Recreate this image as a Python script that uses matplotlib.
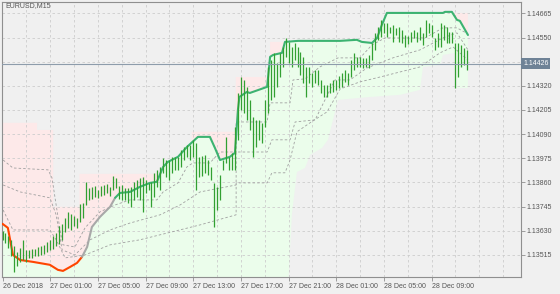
import matplotlib
matplotlib.use("Agg")
import matplotlib.pyplot as plt
import matplotlib.transforms as mtransforms

plt.rcParams['font.family'] = ['Liberation Sans', 'DejaVu Sans']

symbol = "EURUSD,M15"
last_price = 1.14426

highs = [
    1.13629, 1.13620, 1.13606, 1.13587, 1.13558, 1.13530, 1.13549, 1.13587, 1.13539, 1.13539,
    1.13544, 1.13544, 1.13553, 1.13558, 1.13563, 1.13577, 1.13587, 1.13606, 1.13620, 1.13653,
    1.13663, 1.13691, 1.13720, 1.13710, 1.13701, 1.13691, 1.13758, 1.13763, 1.13863, 1.13834,
    1.13839, 1.13844, 1.13825, 1.13844, 1.13848, 1.13853, 1.13839, 1.13891, 1.13882, 1.13844,
    1.13848, 1.13834, 1.13834, 1.13839, 1.13863, 1.13872, 1.13882, 1.13886, 1.13872, 1.13858,
    1.13863, 1.13906, 1.13920, 1.13934, 1.13977, 1.13967, 1.13967, 1.13982, 1.13982, 1.13982,
    1.14015, 1.14029, 1.14039, 1.14039, 1.14063, 1.14048, 1.13982, 1.13986,
    1.13991, 1.13967, 1.13934,
    1.13858, 1.13839, 1.13896, 1.13967, 1.14077, 1.13982, 1.14001, 1.14124, 1.14286, 1.14362,
    1.14348, 1.14315, 1.14253, 1.14172, 1.14158, 1.14158, 1.14144, 1.14253, 1.14410, 1.14443,
    1.14477, 1.14429, 1.14477, 1.14505, 1.14548, 1.14529, 1.14505, 1.14524, 1.14505, 1.14481,
    1.14458, 1.14410, 1.14410, 1.14382, 1.14396, 1.14396, 1.14348, 1.14324, 1.14324, 1.14334,
    1.14348, 1.14348, 1.14367, 1.14382, 1.14396, 1.14382, 1.14443, 1.14477, 1.14458, 1.14458,
    1.14453, 1.14453, 1.14467, 1.14524, 1.14572, 1.14600, 1.14634, 1.14620, 1.14620, 1.14600,
    1.14610, 1.14596, 1.14600, 1.14586, 1.14562, 1.14558, 1.14577, 1.14586, 1.14577, 1.14600,
    1.14572, 1.14634, 1.14620, 1.14610, 1.14548, 1.14572, 1.14620, 1.14610, 1.14600, 1.14577,
    1.14577, 1.14524, 1.14524, 1.14515, 1.14501, 1.14491,
]
lows = [
    1.13587, 1.13572, 1.13549, 1.13510, 1.13434, 1.13463, 1.13482, 1.13491, 1.13482, 1.13501,
    1.13501, 1.13510, 1.13510, 1.13515, 1.13520, 1.13530, 1.13539, 1.13544, 1.13558, 1.13568,
    1.13587, 1.13625, 1.13644, 1.13634, 1.13653, 1.13644, 1.13672, 1.13691, 1.13753, 1.13777,
    1.13782, 1.13791, 1.13787, 1.13796, 1.13801, 1.13810, 1.13796, 1.13825, 1.13834, 1.13782,
    1.13777, 1.13777, 1.13763, 1.13744, 1.13777, 1.13791, 1.13777, 1.13720, 1.13810, 1.13825,
    1.13744, 1.13791, 1.13839, 1.13825, 1.13906, 1.13886, 1.13872, 1.13906, 1.13920, 1.13920,
    1.13934, 1.13967, 1.13982, 1.13967, 1.13982, 1.13825, 1.13886, 1.13891,
    1.13906, 1.13896, 1.13872,
    1.13648, 1.13729, 1.13777, 1.13920, 1.13953, 1.13920, 1.13920, 1.13920, 1.14063, 1.14205,
    1.14191, 1.14158, 1.14110, 1.13982, 1.14029, 1.14063, 1.14048, 1.14124, 1.14191, 1.14253,
    1.14267, 1.14315, 1.14362, 1.14410, 1.14458, 1.14429, 1.14410, 1.14443, 1.14410, 1.14372,
    1.14334, 1.14267, 1.14334, 1.14315, 1.14334, 1.14324, 1.14286, 1.14267, 1.14267, 1.14286,
    1.14291, 1.14301, 1.14310, 1.14315, 1.14339, 1.14324, 1.14362, 1.14396, 1.14410, 1.14410,
    1.14405, 1.14410, 1.14405, 1.14443, 1.14491, 1.14539, 1.14553, 1.14572, 1.14553, 1.14572,
    1.14529, 1.14562, 1.14529, 1.14524, 1.14505, 1.14520, 1.14529, 1.14548, 1.14529, 1.14539,
    1.14515, 1.14553, 1.14572, 1.14553, 1.14491, 1.14505, 1.14505, 1.14539, 1.14524, 1.14524,
    1.14524, 1.14310, 1.14362, 1.14410, 1.14420, 1.14396,
]

# trailing line: down (orange), transition (grey), up (green)
trail_dn_k = [0, 1.8, 3.5, 5.9, 10.2, 15.9, 18.6, 20.3, 22.7, 25, 26.7]
trail_dn_p = [1.13663, 1.13644, 1.13515, 1.13491, 1.13482, 1.13468, 1.13444, 1.13439, 1.13458, 1.13477, 1.13506]
trail_tr_k = [26.7, 28.4, 30, 32.7, 36.1, 37.8]
trail_tr_p = [1.13506, 1.13553, 1.13648, 1.13696, 1.13744, 1.13787]
trail_up_k = [37.8, 39.4, 42.8, 46.1, 49.5, 51.8, 53.9, 55.5, 58.9, 61.9, 65.6, 69.6, 71.3, 73, 76.3, 78,
              79, 79.5, 82, 83, 88.8, 89.8, 90.8, 93.8, 94.8, 99.2, 113.3, 118.9, 120.6, 124, 125.7,
              127.3, 129, 147.8, 148.5, 150.8, 152.5, 153.5, 156.2]
trail_up_p = [1.13787, 1.13810, 1.13815, 1.13839, 1.13858, 1.13863, 1.13934, 1.13958, 1.13982, 1.14029,
              1.14077, 1.14077, 1.14024, 1.13967, 1.13982, 1.14001, 1.14205, 1.14267, 1.14291, 1.14286,
              1.14315, 1.14458, 1.14467, 1.14477, 1.14529, 1.14534, 1.14534, 1.14539, 1.14529, 1.14524,
              1.14548, 1.14610, 1.14667, 1.14667, 1.14672, 1.14672, 1.14634, 1.14629, 1.14562]

upper_k = [0, 11.6, 11.6, 17, 17, 25.8, 25.8, 52.9, 53.9, 55.5, 58.9, 61.9, 63.5, 63.5, 78.3, 78.3,
           89.8, 89.8, 94.8, 99.2, 113.3, 118.9, 120.6, 124, 125.7, 127.3, 129, 156.2]
upper_p = [1.14144, 1.14144, 1.14110, 1.14110, 1.13744, 1.13744, 1.13901, 1.13901, 1.13934, 1.13958,
           1.13982, 1.14029, 1.14048, 1.14101, 1.14101, 1.14362, 1.14362, 1.14529, 1.14529, 1.14534,
           1.14534, 1.14539, 1.14529, 1.14524, 1.14548, 1.14610, 1.14667, 1.14667]

lower_k = [0, 95.8, 97.1, 98.8, 101.5, 103.2, 107.2, 109.2, 112.6, 123.3, 133.4, 140.1, 141.1, 146.8,
           147.8, 152, 152.5, 156.2]
lower_p = [1.13349, 1.13349, 1.13706, 1.13910, 1.13929, 1.13991, 1.14024, 1.14063, 1.14253, 1.14267,
           1.14277, 1.14301, 1.14410, 1.14420, 1.14467, 1.14477, 1.14310, 1.14310]

lvl1_k = [0.2, 3.5, 15.3, 16.6, 18, 19.3, 20.3, 24.3, 27.7, 32.7, 37.8, 42.8, 51.8, 53.9, 58.9, 61.9,
          63.9, 69.6, 73, 78.4, 78.4, 88.8, 89.8, 96.5, 97.5, 101.5, 106.5, 112.6, 120, 124, 128.4,
          141.8, 147.8, 152.5, 156.2]
lvl1_p = [1.13967, 1.13929, 1.13920, 1.13882, 1.13753, 1.13634, 1.13563, 1.13553, 1.13644, 1.13720,
          1.13753, 1.13777, 1.13777, 1.13815, 1.13858, 1.13934, 1.13953, 1.13953, 1.14005, 1.14005,
          1.14148, 1.14148, 1.14239, 1.14239, 1.14348, 1.14353, 1.14410, 1.14453, 1.14453, 1.14515,
          1.14548, 1.14548, 1.14596, 1.14596, 1.14567]
lvl2_k = [0.2, 5.9, 15.9, 18, 20, 24.3, 29.4, 36.1, 42.8, 52.9, 59.6, 66.3, 78.4, 78.4, 88.8, 90.4,
          96.5, 98.2, 104.9, 109.9, 111.6, 116.6, 122.3, 131, 140.1, 147.8, 152.5, 156.2]
lvl2_p = [1.13848, 1.13815, 1.13787, 1.13706, 1.13539, 1.13515, 1.13587, 1.13634, 1.13667, 1.13706,
          1.13753, 1.13815, 1.13848, 1.14005, 1.14005, 1.14063, 1.14063, 1.14148, 1.14158, 1.14301,
          1.14348, 1.14348, 1.14405, 1.14453, 1.14491, 1.14548, 1.14572, 1.14491]
lvl3_k = [0.2, 3.5, 15.9, 18, 21, 27.7, 36.1, 46.1, 66.3, 78.4, 78.4, 88.8, 90.4, 94.8, 96.5, 98.8,
          103.2, 108.9, 113.3, 120, 126.7, 133.4, 140.1, 146.8, 151.2, 156.2]
lvl3_p = [1.13729, 1.13634, 1.13634, 1.13587, 1.13501, 1.13515, 1.13563, 1.13587, 1.13658, 1.13706,
          1.13858, 1.13858, 1.13906, 1.13906, 1.13967, 1.14101, 1.14144, 1.14196, 1.14305, 1.14339,
          1.14362, 1.14386, 1.14410, 1.14477, 1.14505, 1.14443]

price_ticks = [1.13515, 1.13630, 1.13745, 1.13860, 1.13975, 1.14090, 1.14205, 1.14320, 1.14435,
               1.14550, 1.14665]
time_tick_bars = [0, 16, 32, 48, 64, 80, 96, 112, 128, 144]
time_labels = ["26 Dec 2018", "27 Dec 01:00", "27 Dec 05:00", "27 Dec 09:00", "27 Dec 13:00",
               "27 Dec 17:00", "27 Dec 21:00", "28 Dec 01:00", "28 Dec 05:00", "28 Dec 09:00"]

BG = '#f0f0f0'
W, H = 560, 294
fig = plt.figure(figsize=(W / 100, H / 100), dpi=100, facecolor=BG)
ax = fig.add_axes([2 / W, 17 / H, 519 / W, 275 / H], facecolor=BG)
ax.set_xlim(-0.17, 174.0)
ax.set_ylim(1.13410, 1.14719)

# fills
trail_k = trail_dn_k + trail_tr_k[1:] + trail_up_k[1:]
trail_p = trail_dn_p + trail_tr_p[1:] + trail_up_p[1:]
ax.fill(upper_k + trail_k[::-1], upper_p + trail_p[::-1], color='#fde9e9', lw=0, zorder=0.5)
ax.fill(trail_k + lower_k[::-1], trail_p + lower_p[::-1], color='#ebfdeb', lw=0, zorder=0.5)

# grid
for p in price_ticks:
    ax.axhline(p, color='#cdcdcd', lw=0.6, ls=(0, (3, 3)), zorder=1)
for kk in range(8, 174, 8):
    ax.axvline(kk, color='#cdcdcd', lw=0.6, ls=(0, (3, 3)), zorder=1)

# level lines
for lk, lp in ((lvl1_k, lvl1_p), (lvl2_k, lvl2_p), (lvl3_k, lvl3_p)):
    ax.plot(lk, lp, color='#a0a0a0', lw=0.6, ls=(0, (3, 2.5)), zorder=2)

# trailing line
ax.plot(trail_dn_k, trail_dn_p, color='#ff4500', lw=1.5, zorder=3, solid_capstyle='round')
ax.plot(trail_tr_k, trail_tr_p, color='#a8a8a8', lw=1.5, zorder=3, solid_capstyle='round')
ax.plot(trail_up_k, trail_up_p, color='#3cb371', lw=1.5, zorder=3, solid_capstyle='round')

# bars
ax.vlines(range(len(highs)), lows, highs, color='#32a032', lw=0.9, zorder=4)

# current price line and label
ax.axhline(last_price, color='#8d9cab', lw=0.8, zorder=5)
trans = mtransforms.blended_transform_factory(ax.transAxes, ax.transData)
ax.text(1.004, last_price, f"{last_price:.5f}", transform=trans, ha='left', va='center',
        fontsize=5, color='white', zorder=10, clip_on=False,
        bbox=dict(boxstyle='square,pad=0.25', fc='#6e8296', ec='none'))

# axes styling
for s in ax.spines.values():
    s.set_color('#8f8f8f')
    s.set_linewidth(0.8)
ax.yaxis.tick_right()
ax.set_yticks(price_ticks)
# the 1.14435 label sits under the current-price box in the reference
ax.set_yticklabels(["" if abs(p - 1.14435) < 1e-9 else f"{p:.5f}" for p in price_ticks])
ax.tick_params(axis='y', direction='out', length=3, width=0.6, colors='#8f8f8f', pad=1,
               labelsize=5, labelcolor='#555555')
ax.set_xticks(time_tick_bars)
ax.set_xticklabels(time_labels)
ax.tick_params(axis='x', direction='out', length=3, width=0.6, colors='#8f8f8f', pad=1,
               labelsize=5, labelcolor='#555555')
for lab in ax.get_xticklabels():
    lab.set_horizontalalignment('left')

fig.text(5 / W, 1 - 6 / H, symbol, ha='left', va='center', fontsize=5, color='#555555')

fig.savefig('out.png', dpi=100, facecolor=BG)
